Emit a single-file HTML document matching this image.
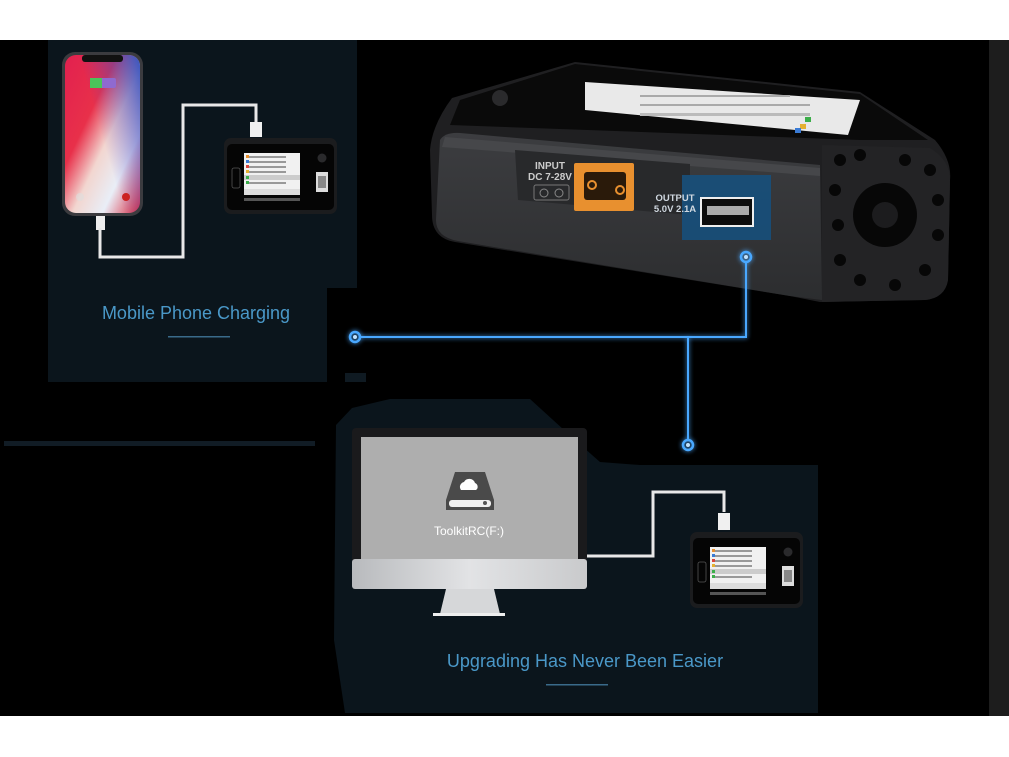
<!DOCTYPE html>
<html><head><meta charset="utf-8"><style>
html,body{margin:0;padding:0;background:#fff;}
body{width:1009px;height:757px;overflow:hidden;position:relative;font-family:"Liberation Sans",sans-serif;}
</style></head><body>
<svg width="1009" height="757" viewBox="0 0 1009 757" xmlns="http://www.w3.org/2000/svg" style="position:absolute;left:0;top:0">
<defs>
<linearGradient id="ph" x1="0" y1="0" x2="1" y2="1">
<stop offset="0" stop-color="#e2204f"/><stop offset="0.35" stop-color="#e8304a"/><stop offset="0.55" stop-color="#f2d6d0"/><stop offset="0.75" stop-color="#e9eef7"/><stop offset="1" stop-color="#d8243a"/>
</linearGradient>
<linearGradient id="ph2" x1="1" y1="0" x2="0" y2="0.6">
<stop offset="0" stop-color="#2a4fc0" stop-opacity="0.95"/><stop offset="0.6" stop-color="#6a3fb0" stop-opacity="0"/>
</linearGradient>
<linearGradient id="chin" x1="0" y1="0" x2="1" y2="0">
<stop offset="0" stop-color="#b8babd"/><stop offset="0.5" stop-color="#e2e3e5"/><stop offset="1" stop-color="#c9cacc"/>
</linearGradient>
<linearGradient id="face" x1="0" y1="0" x2="0" y2="1">
<stop offset="0" stop-color="#3c3d40"/><stop offset="1" stop-color="#2c2d2f"/>
</linearGradient>
<filter id="glow" x="-50%" y="-50%" width="200%" height="200%"><feGaussianBlur stdDeviation="2.5" result="b"/><feMerge><feMergeNode in="b"/><feMergeNode in="SourceGraphic"/></feMerge></filter>
<g id="mini">
<rect x="0" y="0" width="113" height="76" rx="7" fill="#1b1c1e"/>
<rect x="3" y="6" width="107" height="66" rx="5" fill="#050505"/>
<rect x="8" y="30" width="8" height="20" rx="2" fill="none" stroke="#555" stroke-width="0.8"/>
<rect x="20" y="15" width="56" height="42" fill="#f1f1f1"/>
<g fill="#999"><rect x="22" y="18" width="40" height="2"/><rect x="22" y="23" width="40" height="2"/><rect x="22" y="28" width="40" height="2"/><rect x="22" y="33" width="40" height="2"/><rect x="20" y="37" width="56" height="5" fill="#ccc"/><rect x="22" y="44" width="40" height="2"/></g>
<g><rect x="22" y="17" width="3" height="3" fill="#e8902f"/><rect x="22" y="22" width="3" height="3" fill="#3a7bd5"/><rect x="22" y="27" width="3" height="3" fill="#d9453c"/><rect x="22" y="32" width="3" height="3" fill="#e5b030"/><rect x="22" y="38" width="3" height="3" fill="#3cae4a"/><rect x="22" y="43" width="3" height="3" fill="#3cae4a"/></g>
<rect x="20" y="51" width="56" height="6" fill="#ddd"/>
<circle cx="98" cy="20" r="4.5" fill="#2a2a2c"/>
<rect x="92" y="34" width="12" height="20" fill="#ddd"/><rect x="94" y="38" width="8" height="12" fill="#888"/>
<rect x="20" y="60" width="56" height="3" fill="#555"/>
</g>
</defs>
<rect x="0" y="0" width="1009" height="757" fill="#fff"/>
<rect x="0" y="40" width="1009" height="676" fill="#000"/>
<rect x="989" y="40" width="20" height="676" fill="#1d1d1d"/>
<polygon points="48,40 357,40 357,288 327,288 327,382 48,382" fill="#0b151c"/>
<rect x="345" y="373" width="21" height="9" fill="#0f1a22"/>
<rect x="4" y="441" width="311" height="5" fill="#111c25"/>
<polygon points="336,425 352,408 390,399 530,399 575,440 600,462 640,465 818,465 818,713 345,713 334,640" fill="#0b151c"/>
<!-- phone -->
<rect x="62" y="52" width="81" height="164" rx="13" fill="#3b3b3f"/>
<rect x="65" y="55" width="75" height="158" rx="11" fill="url(#ph)"/>
<rect x="65" y="55" width="75" height="158" rx="11" fill="url(#ph2)"/>
<rect x="82" y="55" width="41" height="7" rx="3" fill="#111"/>
<rect x="90" y="78" width="26" height="10" rx="2" fill="#8f6ad0"/><rect x="90" y="78" width="12" height="10" fill="#4bc45a"/>
<circle cx="80" cy="197" r="4" fill="#ddd" opacity="0.6"/><circle cx="126" cy="197" r="4" fill="#c22"/>
<rect x="96" y="216" width="9" height="14" fill="#eee"/>
<polyline points="100,228 100,257 183,257 183,105 256,105 256,128" fill="none" stroke="#e8e8e8" stroke-width="3"/>
<rect x="250" y="122" width="12" height="15" fill="#f0f0f0"/>
<use href="#mini" x="224" y="138"/>
<text x="196" y="319" font-size="18" fill="#4a98c8" text-anchor="middle">Mobile Phone Charging</text>
<rect x="168" y="336" width="62" height="1.5" fill="#3a6a8a"/>
<!-- big charger -->
<path d="M452,98 L575,62 L860,92 L935,140 Q952,160 950,180 L948,280 Q945,298 925,300 L820,302 L790,296 L455,242 Q432,238 432,215 L430,150 Q432,125 452,98 Z" fill="#1f1f21"/>
<polygon points="460,100 575,64 860,94 928,140 860,140 450,125" fill="#0a0a0a"/>
<polygon points="585,82 860,100 848,135 585,110" fill="#e9e9e9"/>
<g fill="#aaa"><rect x="640" y="95" width="150" height="2"/><rect x="640" y="104" width="170" height="2"/><rect x="640" y="113" width="170" height="3" fill="#bbb"/></g>
<rect x="805" y="117" width="6" height="5" fill="#3cae4a"/><rect x="800" y="124" width="6" height="5" fill="#e5b030"/><rect x="795" y="128" width="6" height="5" fill="#3a7bd5"/>
<circle cx="500" cy="98" r="8" fill="#2a2a2c"/>
<path d="M440,140 Q445,132 460,133 L820,165 L822,300 L790,296 L458,241 Q436,237 436,220 Z" fill="url(#face)"/>
<polygon points="445,137 820,168 820,176 442,147" fill="#46474a"/>
<polygon points="515,150 690,164 690,215 518,200" fill="#28292b"/>
<path d="M822,145 L930,148 Q950,160 950,180 L948,280 Q945,298 925,300 L822,302 Z" fill="#232325"/>
<g fill="#070707">
<circle cx="885" cy="215" r="32"/>
<circle cx="840" cy="160" r="6"/><circle cx="860" cy="155" r="6"/><circle cx="905" cy="160" r="6"/><circle cx="930" cy="170" r="6"/>
<circle cx="835" cy="190" r="6"/><circle cx="838" cy="225" r="6"/><circle cx="840" cy="260" r="6"/><circle cx="860" cy="280" r="6"/>
<circle cx="895" cy="285" r="6"/><circle cx="925" cy="270" r="6"/><circle cx="938" cy="235" r="6"/><circle cx="938" cy="200" r="6"/>
</g>
<circle cx="885" cy="215" r="13" fill="#1c1c1e"/>
<rect x="574" y="163" width="60" height="48" rx="2" fill="#e8902f"/>
<rect x="584" y="172" width="42" height="28" rx="3" fill="#2a1a0a"/>
<circle cx="592" cy="185" r="4" fill="none" stroke="#e8902f" stroke-width="2"/><circle cx="620" cy="190" r="4" fill="none" stroke="#e8902f" stroke-width="2"/>
<text x="550" y="169" font-size="10" fill="#ccc" text-anchor="middle" font-weight="bold">INPUT</text>
<text x="550" y="180" font-size="10" fill="#ccc" text-anchor="middle" font-weight="bold">DC 7-28V</text>
<rect x="534" y="185" width="35" height="15" rx="2" fill="none" stroke="#777" stroke-width="1"/>
<circle cx="544" cy="193" r="4" fill="none" stroke="#888"/><circle cx="559" cy="193" r="4" fill="none" stroke="#888"/>
<rect x="682" y="175" width="89" height="65" fill="#184e78" opacity="0.95"/>
<text x="675" y="201" font-size="9.5" fill="#d0d8e0" font-weight="bold" text-anchor="middle">OUTPUT</text>
<text x="675" y="212" font-size="9.5" fill="#d0d8e0" font-weight="bold" text-anchor="middle">5.0V 2.1A</text>
<rect x="701" y="198" width="52" height="28" fill="#0c0c0c" stroke="#eee" stroke-width="2"/>
<rect x="707" y="206" width="42" height="9" fill="#aaa"/>
<g filter="url(#glow)" stroke="#4aa8ff" fill="none">
<polyline points="746,263 746,337 360,337" stroke-width="2"/>
<line x1="688" y1="337" x2="688" y2="439" stroke-width="2"/>
<circle cx="746" cy="257" r="5" stroke-width="2.5"/>
<circle cx="355" cy="337" r="5" stroke-width="2.5"/>
<circle cx="688" cy="445" r="5" stroke-width="2.5"/>
</g>
<g fill="#bfe2ff"><circle cx="746" cy="257" r="2"/><circle cx="355" cy="337" r="2"/><circle cx="688" cy="445" r="2"/></g>
<!-- monitor -->
<rect x="352" y="428" width="235" height="135" rx="4" fill="#1a1a1c"/>
<rect x="361" y="437" width="217" height="122" fill="#aeaeae"/>
<rect x="352" y="559" width="235" height="30" rx="3" fill="url(#chin)"/>
<polygon points="446,589 494,589 500,614 440,614" fill="#d6d7d9"/>
<rect x="433" y="613" width="72" height="3" fill="#eee"/>
<path d="M455,472 L485,472 L494,500 L494,510 L446,510 L446,500 Z" fill="#4a4a4a"/>
<rect x="449" y="500" width="42" height="7" rx="3" fill="#f0f0f0"/>
<circle cx="485" cy="503" r="2" fill="#555"/>
<path d="M461,490 a5,5 0 0 1 3,-8 a6,6 0 0 1 11,1 a4,4 0 0 1 1,7 Z" fill="#fff"/>
<text x="469" y="535" font-size="12" fill="#fff" text-anchor="middle">ToolkitRC(F:)</text>
<polyline points="587,556 653,556 653,492 724,492 724,512" fill="none" stroke="#e8e8e8" stroke-width="3"/>
<rect x="718" y="513" width="12" height="17" fill="#f0f0f0"/>
<use href="#mini" x="690" y="532"/>
<text x="585" y="667" font-size="18" fill="#4a98c8" text-anchor="middle">Upgrading Has Never Been Easier</text>
<rect x="546" y="684" width="62" height="1.5" fill="#3a6a8a"/>
</svg>
</body></html>
